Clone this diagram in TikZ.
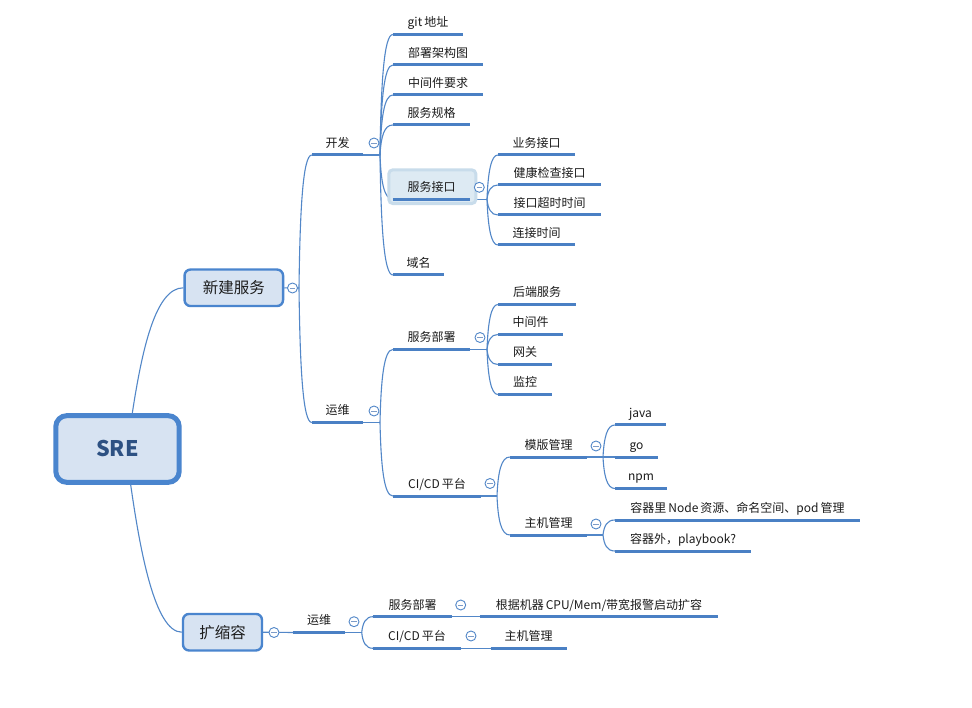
\documentclass[tikz,border=0pt]{standalone}
\usepackage{fontspec}
\setmainfont{Noto Sans CJK SC}
\usetikzlibrary{calc}
\definecolor{ul}{HTML}{4A80C4}
\definecolor{ln}{HTML}{5287C8}
\definecolor{boxfill}{HTML}{D7E3F2}
\definecolor{boxdraw}{HTML}{4A85CE}
\definecolor{sretext}{HTML}{2D5183}
\definecolor{selfill}{HTML}{DDEAF3}
\definecolor{seldraw}{HTML}{C8DCEB}
\definecolor{txt}{HTML}{1C1C1C}
\definecolor{minuscol}{HTML}{7D9CC8}
\pgfdeclarelayer{bg}
\pgfsetlayers{bg,main}
\newcommand\gp{\hspace{2pt}}
\tikzset{
  lbl/.style={inner xsep=0pt, inner ysep=0pt, text height=10pt, text depth=2pt,
    minimum height=23pt, anchor=south, font=\fontsize{12}{14}\selectfont, text=txt},
  ulstyle/.style={draw=ul, line width=3pt},
  conn/.style={draw=ln, line width=1.1pt},
  coll/.style={circle, draw=ln, line width=0.9pt, fill=white, minimum size=10pt, inner sep=0pt,
    path picture={\draw[minuscol, line width=0.9pt]
      ([xshift=-2.6pt]path picture bounding box.center) -- ([xshift=2.6pt]path picture bounding box.center);}},
  l1box/.style={draw=boxdraw, fill=boxfill, line width=2.4pt, rounded corners=6pt,
    font=\fontsize{15.5}{18}\selectfont, text=txt, inner sep=0pt},
  rootbox/.style={draw=boxdraw, fill=boxfill, line width=5pt, rounded corners=11pt,
    font=\bfseries\fontsize{21.5}{24}\selectfont, text=sretext, inner sep=0pt},
  selbox/.style={draw=seldraw, fill=selfill, line width=3pt, rounded corners=4pt, inner sep=0pt},
}
\newcommand\mmlab[5]{%
  \node[lbl, minimum width={#3pt-#2pt}] (#1) at ({(#2+#3)/2}, #4) {#5};
  \draw[ulstyle] (#1.south west) -- (#1.south east);}
\newcommand\mmconn[2]{%
  \draw[conn] (#1) .. controls ($(#1)!0.6!(#1 |- #2.south west)+(1,0)$)
    and ($(#1 |- #2.south west)+(4,0)$) .. (#2.south west);}
\begin{document}
\begin{tikzpicture}[x=1pt,y=-1pt]
\useasboundingbox (0,0) rectangle (972,708);

% main boxes
\node[rootbox, minimum width=123.4pt, minimum height=66.7pt] (sre) at (117.5,449) {SRE};
\node[l1box, minimum width=98.5pt, minimum height=36.5pt] (xj) at (233.8,287.8) {新建服务};
\node[l1box, minimum width=79pt, minimum height=36.5pt] (ksr) at (222.5,632.2) {扩缩容};

% level 2 under 新建服务
\mmlab{kf}{312}{363}{155}{开发}
\mmlab{yw}{312}{363}{422.5}{运维}
% 开发 children
\mmlab{git}{393}{463}{34.5}{git\gp 地址}
\mmlab{bs}{393}{483}{65}{部署架构图}
\mmlab{zjy}{393}{483}{95}{中间件要求}
\mmlab{gg}{393}{470}{125}{服务规格}
\node[selbox, minimum width=87pt, minimum height=33.7pt] (jkbox) at (432.3,186.7) {};
\mmlab{jk}{393}{470}{199.3}{服务接口}
\mmlab{ym}{393}{444}{275}{域名}
% 服务接口 children
\mmlab{ywj}{498}{575}{155}{业务接口}
\mmlab{jc}{498}{601}{185}{健康检查接口}
\mmlab{cs}{498}{601}{215}{接口超时时间}
\mmlab{lj}{498}{575}{245}{连接时间}
% 运维 children
\mmlab{fb}{393}{470}{349.5}{服务部署}
\mmlab{ci}{393}{481}{496}{CI/CD\gp 平台}
\mmlab{hd}{498}{576}{304.5}{后端服务}
\mmlab{zjj}{498}{563}{334.5}{中间件}
\mmlab{wg}{498}{552}{364.5}{网关}
\mmlab{jkk}{498}{552}{394.5}{监控}
\mmlab{mb}{510}{587}{457}{模版管理}
\mmlab{zj}{510}{587}{535}{主机管理}
\mmlab{java}{615}{666}{425}{java}
\mmlab{go}{615}{658}{457}{go}
\mmlab{npm}{615}{667}{488.5}{npm}
\mmlab{rqa}{615}{860}{520}{容器里\gp Node\gp 资源、命名空间、pod\gp 管理}
\mmlab{rqb}{615}{751}{551}{容器外，playbook?}
% 扩缩容 subtree
\mmlab{ywb}{293}{345}{632.5}{运维}
\mmlab{fbb}{373}{452}{616.7}{服务部署}
\mmlab{gj}{480}{718}{616.7}{根据机器\gp CPU/Mem/带宽报警启动扩容}
\mmlab{cib}{373}{461}{648.3}{CI/CD\gp 平台}
\mmlab{zjb}{490.7}{566.7}{648.3}{主机管理}

% branch points
\coordinate (b-xj) at (299,288);
\coordinate (b-kf) at (380,155);
\coordinate (b-yw) at (380,422.5);
\coordinate (b-jk) at (487,199.3);
\coordinate (b-fb) at (487,349.5);
\coordinate (b-ci) at (497,496);
\coordinate (b-mb) at (603,457);
\coordinate (b-zj) at (603,535);
\coordinate (b-ywb) at (361.7,632.5);

\begin{pgfonlayer}{bg}
  \fill[white] (0,0) rectangle (972,708);
  \draw[conn] ([xshift=14.8pt]sre.north) .. controls +(9.7,-63) and +(-28,0) .. (xj.west);
  \draw[conn] ([xshift=13.2pt]sre.south) .. controls +(9.3,65) and +(-27,0) .. (ksr.west);
  \draw[conn] (xj.east) -- (b-xj);
  \mmconn{b-xj}{kf}
  \mmconn{b-xj}{yw}
  \draw[conn] (kf.south east) -- (b-kf);
  \mmconn{b-kf}{git}
  \mmconn{b-kf}{bs}
  \mmconn{b-kf}{zjy}
  \mmconn{b-kf}{gg}
  \mmconn{b-kf}{jk}
  \mmconn{b-kf}{ym}
  \draw[conn] (jk.south east) -- (b-jk);
  \mmconn{b-jk}{ywj}
  \mmconn{b-jk}{jc}
  \mmconn{b-jk}{cs}
  \mmconn{b-jk}{lj}
  \draw[conn] (yw.south east) -- (b-yw);
  \mmconn{b-yw}{fb}
  \mmconn{b-yw}{ci}
  \draw[conn] (fb.south east) -- (b-fb);
  \mmconn{b-fb}{hd}
  \mmconn{b-fb}{zjj}
  \mmconn{b-fb}{wg}
  \mmconn{b-fb}{jkk}
  \draw[conn] (ci.south east) -- (b-ci);
  \mmconn{b-ci}{mb}
  \mmconn{b-ci}{zj}
  \draw[conn] (mb.south east) -- (b-mb);
  \mmconn{b-mb}{java}
  \mmconn{b-mb}{go}
  \mmconn{b-mb}{npm}
  \draw[conn] (zj.south east) -- (b-zj);
  \mmconn{b-zj}{rqa}
  \mmconn{b-zj}{rqb}
  \draw[conn] (ksr.east) -- (ywb.south west);
  \draw[conn] (ywb.south east) -- (b-ywb);
  \mmconn{b-ywb}{fbb}
  \mmconn{b-ywb}{cib}
  \draw[conn] (fbb.south east) -- (gj.south west);
  \draw[conn] (cib.south east) -- (zjb.south west);
\end{pgfonlayer}

% collapse circles
\node[coll] (c-xj) at (292.5,288) {};
\node[coll] (c-kf) at (374,143) {};
\node[coll] (c-yw) at (374,411) {};
\node[coll] (c-jk) at (479.3,187.3) {};
\node[coll] (c-fb) at (480,337.5) {};
\node[coll] (c-ci) at (490,483.5) {};
\node[coll] (c-mb) at (596,446) {};
\node[coll] (c-zj) at (596,524) {};
\node[coll] (c-ksr) at (274,632.5) {};
\node[coll] (c-ywb) at (354,621.7) {};
\node[coll] (c-fbb) at (460.7,605) {};
\node[coll] (c-cib) at (471,636) {};
\end{tikzpicture}
\end{document}
